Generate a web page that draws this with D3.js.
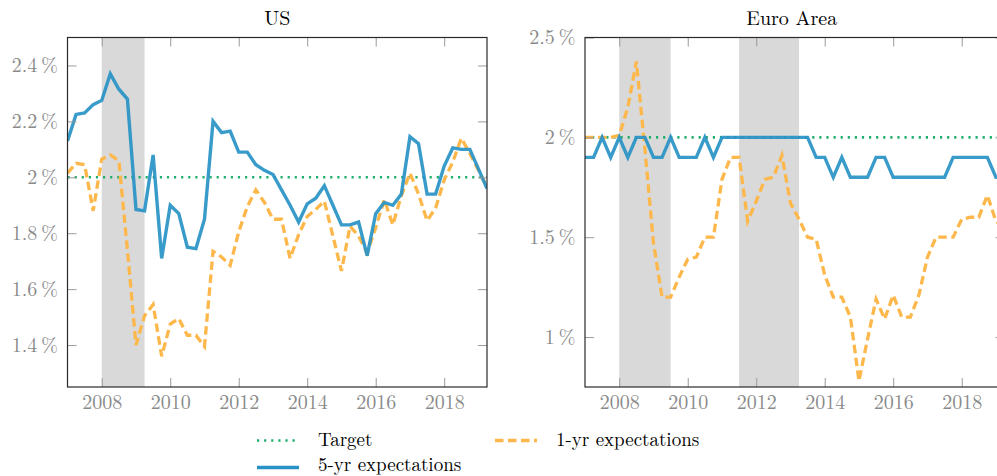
<!DOCTYPE html>
<html><head><meta charset="utf-8">
<script src="https://cdn.jsdelivr.net/npm/d3@7"></script>
<style>body{margin:0;background:#fff}svg{display:block}
svg text{font-family:"Latin Modern Roman","Liberation Serif",serif}</style>
</head><body>
<svg id="c" width="997" height="476"></svg>
<script>
// ---------- data ----------
const quarters = d3.range(50).map(i => 2007 + i / 4);   // 2007Q1 .. 2019Q2
const usFive = [2.13,2.225,2.23,2.26,2.275,2.37,2.315,2.28,1.885,1.88,
  2.08,1.71,1.90,1.87,1.75,1.745,1.85,2.20,2.16,2.165,
  2.09,2.09,2.045,2.025,2.01,1.955,1.90,1.84,1.905,1.925,
  1.97,1.90,1.83,1.83,1.84,1.72,1.87,1.91,1.90,1.94,
  2.145,2.12,1.94,1.94,2.04,2.105,2.10,2.10,2.03,1.96];
const usOne = [2.015,2.05,2.045,1.88,2.065,2.08,2.06,1.74,1.40,1.505,
  1.545,1.36,1.475,1.495,1.435,1.435,1.395,1.735,1.715,1.685,
  1.805,1.895,1.955,1.91,1.85,1.85,1.71,1.795,1.86,1.885,
  1.915,1.79,1.665,1.825,1.79,1.73,1.82,1.92,1.83,1.935,
  2.015,1.94,1.845,1.89,1.99,2.055,2.14,2.085,2.025,1.965];
const euFive = [1.9,1.9,2.0,1.9,2.0,1.9,2.0,2.0,1.9,1.9,
  2.0,1.9,1.9,1.9,2.0,1.9,2.0,2.0,2.0,2.0,
  2.0,2.0,2.0,2.0,2.0,2.0,2.0,1.9,1.9,1.8,
  1.9,1.8,1.8,1.8,1.9,1.9,1.8,1.8,1.8,1.8,
  1.8,1.8,1.8,1.9,1.9,1.9,1.9,1.9,1.8,1.8];
const euOne = [2.0,2.0,2.0,2.0,2.01,2.15,2.38,1.94,1.47,1.20,
  1.20,1.30,1.39,1.40,1.50,1.50,1.79,1.90,1.90,1.58,
  1.68,1.79,1.80,1.91,1.67,1.59,1.50,1.49,1.31,1.20,
  1.20,1.10,0.78,0.99,1.19,1.09,1.21,1.10,1.10,1.21,
  1.40,1.50,1.50,1.50,1.59,1.60,1.60,1.71,1.58,1.55];
const target = 2;
const yearTicks = [2008,2010,2012,2014,2016,2018];
const usTicks = [1.4,1.6,1.8,2.0,2.2,2.4];
const euTicks = [1,1.5,2,2.5];
const usRecessions = [[2008,2009.25]];
const euRecessions = [[2008,2009.5],[2011.5,2013.25]];
const xDomain = [2007,2019.25];
const usDomain = [1.25,2.5];
const euDomain = [0.75,2.5];
const legendItems = ["Target","1-yr expectations","5-yr expectations"];

// ---------- style ----------
const C = {blue:"#2892c6", orange:"#fdb74a", green:"#1fae6b", shade:"#d9d9d9",
  tick:"#9a9a9a", label:"#8a8a8a", frame:"#2a2a2a"};
const FS = 20, LFS = 19;
const FF = '"Latin Modern Roman","Liberation Serif",serif';
const svg = d3.select("#c");
const fmt = v => (+v.toFixed(2)).toString() + "\u2009%";

function panel(id, x0, title, titleShift, five, one, yDomain, yTicks, recs){
  const W = 419.5, top = 37.5, bottom = 387;
  const x = d3.scaleLinear(xDomain, [x0, x0 + W]);
  const y = d3.scaleLinear(yDomain, [bottom, top]);
  const g = svg.append("g");
  svg.append("clipPath").attr("id", id).append("rect")
    .attr("x", x0).attr("y", top).attr("width", W).attr("height", bottom - top);
  const pg = g.append("g").attr("clip-path", `url(#${id})`);
  pg.selectAll("rect.rec").data(recs).join("rect").attr("class","rec")
    .attr("x", d => x(d[0])).attr("width", d => x(d[1]) - x(d[0]))
    .attr("y", top).attr("height", bottom - top).attr("fill", C.shade);
  const line = d3.line().x((d,i) => x(quarters[i])).y(d => y(d));
  pg.append("line").attr("x1", x0).attr("x2", x0 + W)
    .attr("y1", y(target)).attr("y2", y(target))
    .attr("stroke", C.green).attr("stroke-width", 2.6).attr("stroke-dasharray", "2.2 4.9");
  pg.append("path").datum(one).attr("d", line).attr("fill","none")
    .attr("stroke", C.orange).attr("stroke-width", 3.3).attr("stroke-dasharray","8.5 4.5");
  pg.append("path").datum(five).attr("d", line).attr("fill","none")
    .attr("stroke", C.blue).attr("stroke-width", 3.4).attr("stroke-linejoin","miter")
    .attr("stroke-opacity", 0.92);

  const TL = 9;
  const xa = d3.axisBottom(x).tickValues(yearTicks).tickSize(TL).tickFormat(d3.format("d"));
  const xb = g.append("g").attr("transform", `translate(0,${bottom})`).call(xa)
    .attr("font-family", FF);
  xb.select(".domain").remove();
  xb.selectAll(".tick line").attr("y2", -TL).attr("stroke", C.tick);
  xb.selectAll(".tick text").attr("y", 21.5).attr("dy", 0).attr("fill", C.label)
    .attr("font-size", FS);
  const xt = g.append("g").attr("transform", `translate(0,${top})`)
    .call(d3.axisTop(x).tickValues(yearTicks).tickSize(TL).tickFormat(""));
  xt.select(".domain").remove();
  xt.selectAll(".tick line").attr("y2", TL).attr("stroke", C.tick);

  const ya = d3.axisLeft(y).tickValues(yTicks).tickSize(TL).tickFormat(fmt);
  const yl = g.append("g").attr("transform", `translate(${x0},0)`).call(ya)
    .attr("font-family", FF);
  yl.select(".domain").remove();
  yl.selectAll(".tick line").attr("x2", TL).attr("stroke", C.tick);
  yl.selectAll(".tick text").attr("x", -9.5).attr("dy", "0.32em").attr("fill", C.label)
    .attr("font-size", FS);
  const yr = g.append("g").attr("transform", `translate(${x0 + W},0)`)
    .call(d3.axisRight(y).tickValues(yTicks).tickSize(TL).tickFormat(""));
  yr.select(".domain").remove();
  yr.selectAll(".tick line").attr("x2", -TL).attr("stroke", C.tick);

  g.append("rect").attr("x", x0).attr("y", top).attr("width", W).attr("height", bottom - top)
    .attr("fill","none").attr("stroke", C.frame).attr("stroke-width", 1.2);

  g.append("text").attr("x", x0 + W/2 + titleShift).attr("y", 25).attr("text-anchor","middle")
    .attr("font-family", FF).attr("font-size", FS).attr("fill","#000").text(title);
}

panel("clipUS", 67.5, "US", 0, usFive, usOne, usDomain, usTicks, usRecessions);
panel("clipEU", 585, "Euro Area", -3, euFive, euOne, euDomain, euTicks, euRecessions);

// ---------- legend ----------
const lg = svg.append("g");
const styles = [
  {c:C.green, w:2.6, dash:"2.2 4.9", x:257, y:440.5, ty:445.5},
  {c:C.orange, w:3.3, dash:"8.5 4.5", x:495, y:440.5, ty:445.5},
  {c:C.blue, w:3.4, dash:null, x:257, y:467.5, ty:471}
];
legendItems.forEach((t,i) => {
  const s = styles[i];
  lg.append("line").attr("x1", s.x).attr("x2", s.x + 42).attr("y1", s.y).attr("y2", s.y)
    .attr("stroke", s.c).attr("stroke-width", s.w).attr("stroke-dasharray", s.dash);
  lg.append("text").attr("x", s.x + 61).attr("y", s.ty).attr("font-size", LFS)
    .attr("font-family", FF).attr("fill","#000").text(t);
});
</script>
</body></html>
